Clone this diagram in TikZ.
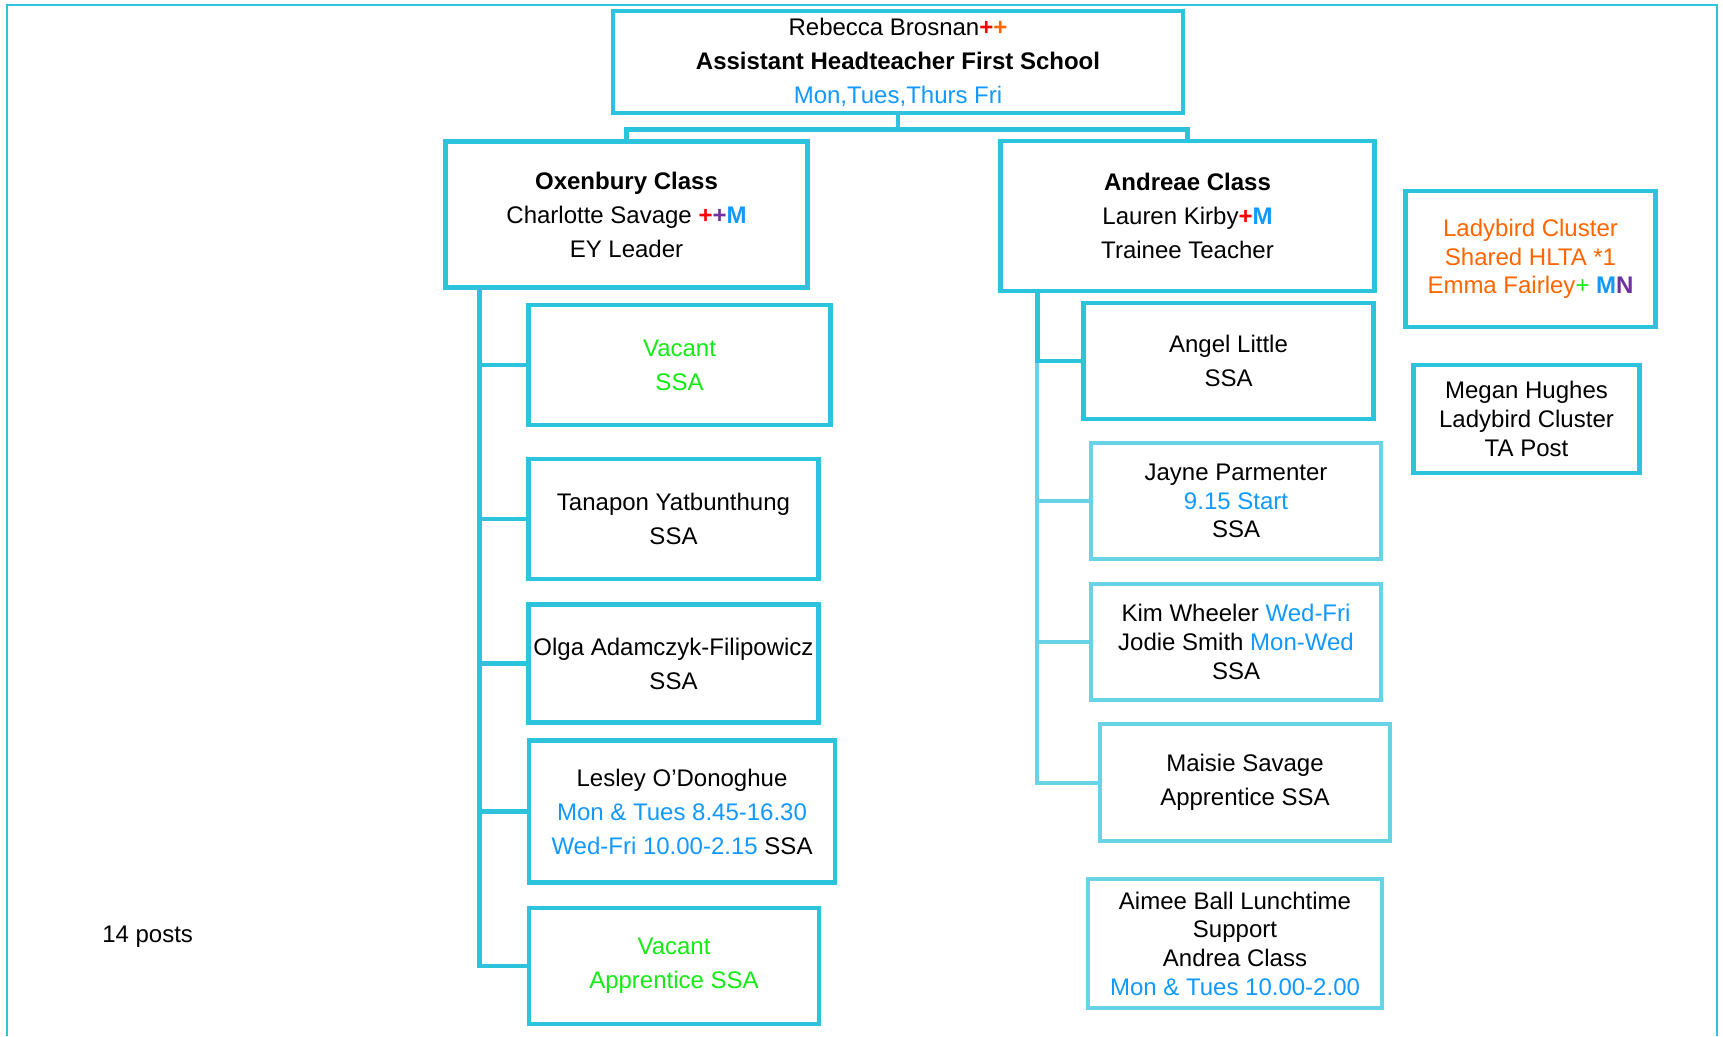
\documentclass[tikz,border=0pt]{standalone}
\usepackage{fontspec}
\setmainfont{Liberation Sans}
\usepackage{xcolor}
\usepackage{tikz}
\usetikzlibrary{positioning}
\definecolor{chartcyan}{RGB}{46,195,221}
\definecolor{chartlight}{RGB}{104,211,228}
\definecolor{dayblue}{RGB}{17,153,255}
\definecolor{vacgreen}{RGB}{20,235,20}
\definecolor{plusred}{RGB}{255,0,0}
\definecolor{plusorange}{RGB}{255,102,0}
\definecolor{pluspurple}{RGB}{112,48,160}
\newcommand{\days}[1]{\textcolor{dayblue}{#1}}

\begin{document}
\begin{tikzpicture}[
  x=0.75pt, y=-0.75pt,
  box/.style={draw=chartcyan, line width=3.6pt, fill=white, align=center,
    inner sep=0pt, font=\fontsize{18}{25.5}\selectfont},
  tight/.style={font=\fontsize{18}{21.5}\selectfont},
  lightbox/.style={box, draw=chartlight, line width=3pt},
  link/.style={draw=chartcyan, line width=3.6pt},
  lightlink/.style={draw=chartlight, line width=3pt},
  outerframe/.style={draw=chartcyan, line width=1.5pt},
  note/.style={font=\fontsize{18}{21.5}\selectfont, inner sep=0pt},
]
\useasboundingbox (0,0) rectangle (1723,1036);
\draw[outerframe] (7,1036) |- (1717,5) -- (1717,1036);

% Head of first school
\node[box, minimum width=427.5pt, minimum height=76.5pt] (head) at (898,62)
  {Rebecca Brosnan\textbf{\textcolor{plusred}{+}\textcolor{plusorange}{+}}\\
   \textbf{Assistant Headteacher First School}\\
   \days{Mon,Tues,Thurs Fri}};

% Class leaders
\node[box, minimum width=272pt, minimum height=110pt] (oxen) at (626.5,214.5)
  {\textbf{Oxenbury Class}\\
   Charlotte Savage \textbf{\textcolor{plusred}{+}\textcolor{pluspurple}{+}\days{M}}\\
   EY Leader};
\node[box, minimum width=280pt, minimum height=112.5pt] (andr) at (1187.5,216)
  {\textbf{Andreae Class}\\
   Lauren Kirby\textbf{\textcolor{plusred}{+}\days{M}}\\
   Trainee Teacher};

% Oxenbury staff
\node[box, minimum width=226pt, minimum height=90pt] (vacA) at (679.5,365)
  {\textcolor{vacgreen}{Vacant}\\ \textcolor{vacgreen}{SSA}};
\node[box, minimum width=217pt, minimum height=90pt] (tana) at (673.5,519)
  {Tanapon Yatbunthung\\ SSA};
\node[box, minimum width=217pt, minimum height=88pt] (olga) at (673.5,663.5)
  {Olga Adamczyk-Filipowicz\\ SSA};
\node[box, minimum width=229.5pt, minimum height=106pt] (lesl) at (682,811.5)
  {Lesley O’Donoghue\\ \days{Mon \& Tues 8.45-16.30}\\
   \days{Wed-Fri 10.00-2.15} SSA};
\node[box, minimum width=217.5pt, minimum height=87pt] (vacB) at (674,966)
  {\textcolor{vacgreen}{Vacant}\\ \textcolor{vacgreen}{Apprentice SSA}};

% Andreae staff
\node[box, minimum width=218pt, minimum height=87pt] (angel) at (1228.5,361)
  {Angel Little\\ SSA};
\node[lightbox, tight, minimum width=217.5pt, minimum height=87pt] (jayne) at (1236,501)
  {Jayne Parmenter\\ \days{9.15 Start}\\ SSA};
\node[lightbox, tight, minimum width=217.5pt, minimum height=87pt] (kim) at (1236,642)
  {Kim Wheeler \days{Wed-Fri}\\ Jodie Smith \days{Mon-Wed}\\ SSA};
\node[lightbox, minimum width=217.5pt, minimum height=88pt] (maisie) at (1245,782.5)
  {Maisie Savage\\ Apprentice SSA};
\node[lightbox, tight, minimum width=220.5pt, minimum height=97pt] (aimee) at (1235,943.5)
  {Aimee Ball Lunchtime\\ Support\\ Andrea Class\\ \days{Mon \& Tues 10.00-2.00}};

% Cluster posts
\node[box, tight, minimum width=188pt, minimum height=102pt] (lady) at (1530.5,259)
  {\textcolor{plusorange}{Ladybird Cluster}\\
   \textcolor{plusorange}{Shared HLTA *1}\\
   \textcolor{plusorange}{Emma Fairley}\textcolor{vacgreen}{+}
   \textbf{\days{M}\textcolor{pluspurple}{N}}};
\node[box, tight, minimum width=170pt, minimum height=81pt] (megan) at (1526.5,419)
  {Megan Hughes\\ Ladybird Cluster\\ TA Post};

\node[note, anchor=west] (posts) at (102,937) {14 posts};

% Links
\draw[link] (head.south) -- ++(0,14) -| (oxen.north);
\draw[link] (head.south) -- ++(0,14) -| (andr.north);
\foreach \c in {vacA,tana,olga,lesl,vacB}
  \draw[link] ([xshift=27.75pt]oxen.south west) |- (\c.west);
\foreach \c in {jayne,kim,maisie}
  \draw[lightlink] ([xshift=29.25pt]andr.south west) |- (\c.west);
\draw[link] ([xshift=29.25pt]andr.south west) |- (angel.west);
\end{tikzpicture}
\end{document}
